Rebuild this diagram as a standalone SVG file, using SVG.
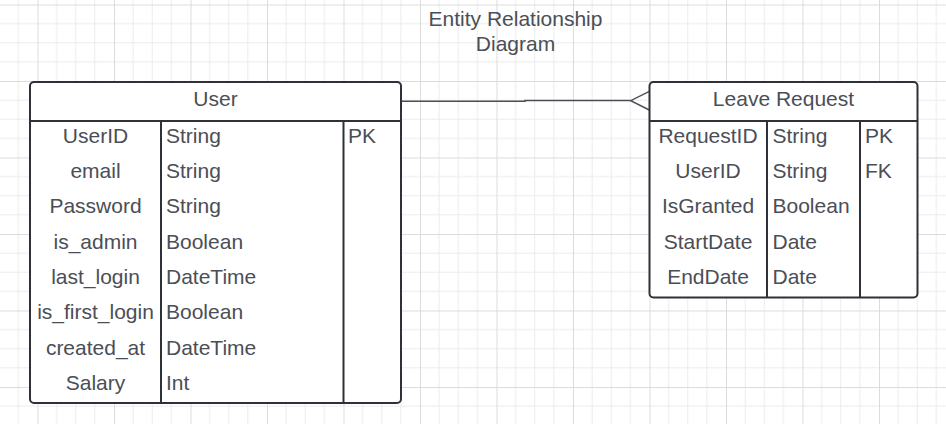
<svg xmlns="http://www.w3.org/2000/svg" width="946" height="424" viewBox="0 0 946 424">
  <defs>
    <pattern id="grid" patternUnits="userSpaceOnUse" x="37.5" y="4.5" width="76.5" height="76.5">
      <path d="M19.125 0V76.5M38.25 0V76.5M57.375 0V76.5M0 19.125H76.5M0 38.25H76.5M0 57.375H76.5" stroke="#ececec" stroke-width="1" fill="none"/>
      <path d="M0.5 0V76.5M0 0.5H76.5" stroke="#dcdcdc" stroke-width="1" fill="none"/>
    </pattern>
  </defs>
  <style>
    .box { fill: #ffffff; stroke: #2e3138; stroke-width: 2; }
    .sep { stroke: #2e3138; stroke-width: 2; fill: none; }
    .conn { stroke: #4a4d55; stroke-width: 1.4; fill: none; }
    text { font-family: "Liberation Sans", Arial, sans-serif; font-size: 21px; fill: #4b4e56; }
    .c { text-anchor: middle; }
  </style>
  <rect width="946" height="424" fill="#ffffff"/>
  <rect width="946" height="424" fill="url(#grid)"/>

  <g id="title">
    <text class="c" x="515.5" y="26">Entity Relationship</text>
    <text class="c" x="515.5" y="51">Diagram</text>
  </g>

  <g id="connectors">
    <path class="conn" d="M401 101.3H525V100.5H630.7"/>
    <path class="conn" d="M649.3 91.3L630.7 100.7L649.3 110"/>
  </g>

  <g id="user">
    <rect class="box" x="30" y="82" width="371" height="321" rx="4"/>
    <path class="sep" d="M30 121H401M161 121V403M343.5 121V403"/>
    <text class="c" x="215.5" y="105.7">User</text>
    <text class="c" x="95.5" y="142.7">UserID</text>
    <text x="166" y="142.7">String</text>
    <text x="348" y="142.7">PK</text>
    <text class="c" x="95.5" y="178">email</text>
    <text x="166" y="178">String</text>
    <text class="c" x="95.5" y="213.3">Password</text>
    <text x="166" y="213.3">String</text>
    <text class="c" x="95.5" y="248.6">is_admin</text>
    <text x="166" y="248.6">Boolean</text>
    <text class="c" x="95.5" y="283.9">last_login</text>
    <text x="166" y="283.9">DateTime</text>
    <text class="c" x="95.5" y="319.2">is_first_login</text>
    <text x="166" y="319.2">Boolean</text>
    <text class="c" x="95.5" y="354.5">created_at</text>
    <text x="166" y="354.5">DateTime</text>
    <text class="c" x="95.5" y="389.8">Salary</text>
    <text x="166" y="389.8">Int</text>
  </g>

  <g id="leave-request">
    <rect class="box" x="649.5" y="82" width="268" height="215.5" rx="4"/>
    <path class="sep" d="M649.5 121H917.5M767 121V297.5M860 121V297.5"/>
    <text class="c" x="783.5" y="105.7">Leave Request</text>
    <text class="c" x="708" y="142.7">RequestID</text>
    <text x="772.5" y="142.7">String</text>
    <text x="865" y="142.7">PK</text>
    <text class="c" x="708" y="178">UserID</text>
    <text x="772.5" y="178">String</text>
    <text x="865" y="178">FK</text>
    <text class="c" x="708" y="213.3">IsGranted</text>
    <text x="772.5" y="213.3">Boolean</text>
    <text class="c" x="708" y="248.6">StartDate</text>
    <text x="772.5" y="248.6">Date</text>
    <text class="c" x="708" y="283.9">EndDate</text>
    <text x="772.5" y="283.9">Date</text>
  </g>
</svg>
